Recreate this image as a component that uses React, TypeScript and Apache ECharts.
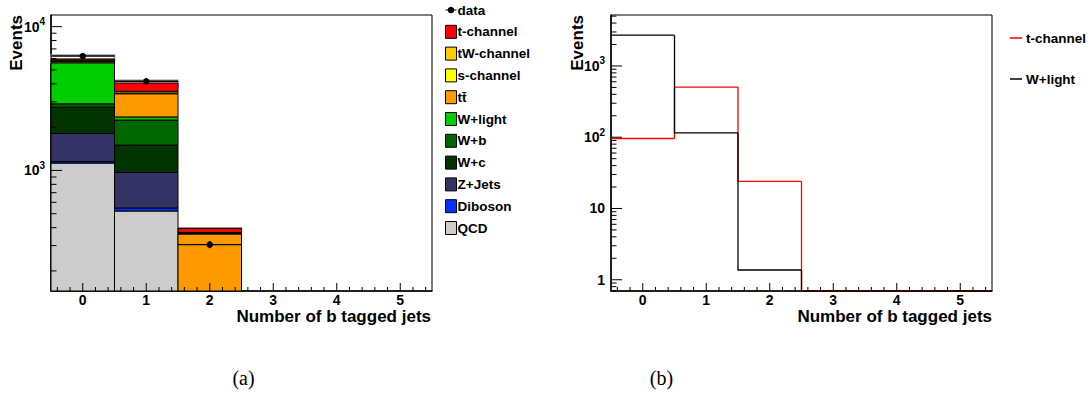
import React, { useEffect, useRef } from 'react';
import * as echarts from 'echarts';

// ---------- data ----------
const binCenters = [0, 1, 2, 3, 4, 5];
const xTickLabels = [0, 1, 2, 3, 4, 5];

// stack layers, bottom to top (events per bin)
const qcd = [1125, 522, 20, 0, 0, 0];
const diboson = [25, 26, 2, 0, 0, 0];
const zjets = [657, 420, 12, 0, 0, 0];
const wc = [948, 532, 8, 0, 0, 0];
const wb = [150, 740, 30, 0, 0, 0];
const wlight = [2700, 115, 1.37, 0, 0, 0];
const ttbar = [140, 1060, 288, 0, 0, 0];
const schannel = [30, 40, 3, 0, 0, 0];
const twchannel = [90, 96, 6, 0, 0, 0];
const tchannel = [96, 505, 24, 0, 0, 0];
const dataCounts = [6250, 4170, 305, 0, 0, 0];
const mcUncertainty = [390, 180, 5, 0, 0, 0];

const processNames = ['QCD', 'Diboson', 'Z+Jets', 'W+c', 'W+b', 'W+light', 'tt\u0304', 's-channel', 'tW-channel', 't-channel'];
const processColors = ['#cccccc', '#0033ff', '#333366', '#003300', '#006600', '#00cc00', '#ff9900', '#ffff00', '#ffcc00', '#ff0000'];
const layers = [qcd, diboson, zjets, wc, wb, wlight, ttbar, schannel, twchannel, tchannel];

// right panel histograms
const rightTChannel = tchannel;
const rightWLight = wlight;

const leftYMin = 145;
const leftYMax = 12050;
const rightYMin = 0.695;
const rightYMax = 5190;

const FONT = '"Liberation Sans", Arial, Helvetica, sans-serif';

const cumulative: number[][] = [];
layers.forEach((layer, j) => {
  cumulative.push(layer.map((v, i) => v + (j > 0 ? cumulative[j - 1][i] : 0)));
});
const totals = cumulative[cumulative.length - 1];

function logLabel(value: number): string {
  const e = Math.round(Math.log10(value));
  if (Math.abs(value / Math.pow(10, e) - 1) > 1e-6) return '';
  if (e === 0) return '{m|1}';
  if (e === 1) return '{m|10}';
  return '{m|10}{s|' + e + '}';
}

function buildYTicks(lo: number, hi: number, eMin: number, eMax: number): number[][] {
  const out: number[][] = [];
  for (let e = eMin; e <= eMax; e++) {
    for (let k = 1; k <= 9; k++) {
      const v = k * Math.pow(10, e);
      if (v >= lo && v <= hi) out.push([0, v, k === 1 ? 1 : 0, 0]);
    }
  }
  return out;
}
function buildXTicks(yRef: number): number[][] {
  const out: number[][] = [];
  for (let n = -2; n <= 27; n++) {
    const v = n / 5;
    out.push([v, yRef, n % 5 === 0 ? 1 : 0, 1]);
  }
  return out;
}

export default function App() {
  const ref = useRef<HTMLDivElement>(null);
  useEffect(() => {
    if (!ref.current) return;
    const chart = echarts.init(ref.current, undefined, { renderer: 'svg' });

    const clampY = (cs: any, y: number) => Math.max(cs.y, Math.min(cs.y + cs.height, y));

    const tickRender = (params: any, api: any) => {
      const cs = params.coordSys;
      const major = api.value(2);
      const kind = api.value(3);
      if (kind === 0) {
        const y = api.coord([0, api.value(1)])[1];
        const len = major ? 11 : 5.5;
        return { type: 'line', shape: { x1: cs.x, y1: y, x2: cs.x + len, y2: y }, style: { stroke: '#000', lineWidth: 1 } };
      }
      const x = api.coord([api.value(0), api.value(1)])[0];
      const len = major ? 8 : 4;
      const yb = cs.y + cs.height;
      return { type: 'line', shape: { x1: x, y1: yb, x2: x, y2: yb - len }, style: { stroke: '#000', lineWidth: 1 } };
    };

    const stackSeries = layers.map((layer, j) => ({
      type: 'custom',
      name: processNames[j],
      xAxisIndex: 0,
      yAxisIndex: 0,
      silent: true,
      itemStyle: { color: processColors[j], borderColor: '#000', borderWidth: 1 },
      data: binCenters.map((b, i) => [b, layer[i]]),
      z: 3,
      renderItem: (params: any, api: any) => {
        const cs = params.coordSys;
        const i = params.dataIndex;
        const v = layer[i];
        if (!(v > 0)) return null;
        const top = cumulative[j][i];
        const bottom = top - v;
        const yTop = clampY(cs, api.coord([0, top])[1]);
        const yBot = bottom > 0 ? clampY(cs, api.coord([0, bottom])[1]) : cs.y + cs.height;
        if (yBot - yTop < 0.01) return null;
        const xL = api.coord([binCenters[i] - 0.5, top])[0];
        const xR = api.coord([binCenters[i] + 0.5, top])[0];
        return {
          type: 'rect',
          shape: { x: xL, y: yTop, width: xR - xL, height: yBot - yTop },
          style: { fill: processColors[j], stroke: '#000', lineWidth: 1 },
        };
      },
    }));

    const bandSeries = {
      type: 'custom',
      name: 'uncertainty',
      xAxisIndex: 0,
      yAxisIndex: 0,
      silent: true,
      z: 2,
      data: binCenters.map((b, i) => [b, totals[i]]),
      renderItem: (params: any, api: any) => {
        const cs = params.coordSys;
        const i = params.dataIndex;
        const t = totals[i];
        const u = mcUncertainty[i];
        if (!(t > 0) || !(u > 0)) return null;
        const yTop = clampY(cs, api.coord([0, t + u])[1]);
        const yBot = clampY(cs, api.coord([0, Math.max(t - u, 1e-3)])[1]);
        const xL = api.coord([binCenters[i] - 0.5, t])[0];
        const xR = api.coord([binCenters[i] + 0.5, t])[0];
        return {
          type: 'rect',
          shape: { x: xL, y: yTop, width: xR - xL, height: yBot - yTop },
          style: { fill: 'none', stroke: '#999999', lineWidth: 1.6 },
        };
      },
    };

    const dataSeries = {
      type: 'custom',
      name: 'data',
      xAxisIndex: 0,
      yAxisIndex: 0,
      silent: true,
      z: 5,
      itemStyle: { color: '#000' },
      data: binCenters.map((b, i) => [b, dataCounts[i]]),
      renderItem: (params: any, api: any) => {
        const cs = params.coordSys;
        const i = params.dataIndex;
        const v = dataCounts[i];
        if (!(v > 0)) return null;
        const err = Math.sqrt(v);
        const [x, y] = api.coord([binCenters[i], v]);
        const xL = api.coord([binCenters[i] - 0.5, v])[0];
        const xR = api.coord([binCenters[i] + 0.5, v])[0];
        const yHi = clampY(cs, api.coord([0, v + err])[1]);
        const yLo = clampY(cs, api.coord([0, v - err])[1]);
        return {
          type: 'group',
          children: [
            { type: 'line', shape: { x1: xL, y1: y, x2: xR, y2: y }, style: { stroke: '#000', lineWidth: 1.3 } },
            { type: 'line', shape: { x1: x, y1: yHi, x2: x, y2: yLo }, style: { stroke: '#000', lineWidth: 1.3 } },
            { type: 'circle', shape: { cx: x, cy: y, r: 3.3 }, style: { fill: '#000' } },
          ],
        };
      },
    };

    const stepSeries = (name: string, values: number[], color: string, z: number) => ({
      type: 'custom',
      name,
      xAxisIndex: 1,
      yAxisIndex: 1,
      silent: true,
      z,
      itemStyle: { color },
      data: binCenters.map((b, i) => [b, values[i]]),
      renderItem: (params: any, api: any) => {
        const cs = params.coordSys;
        const i = params.dataIndex;
        const yOf = (v: number) => (v > 0 ? clampY(cs, api.coord([0, v])[1]) : cs.y + cs.height);
        const xL = api.coord([binCenters[i] - 0.5, 1])[0];
        const xR = api.coord([binCenters[i] + 0.5, 1])[0];
        const y = yOf(values[i]);
        const pts: number[][] = [];
        if (i > 0) pts.push([xL, yOf(values[i - 1])]);
        pts.push([xL, y], [xR, y]);
        return { type: 'polyline', shape: { points: pts }, style: { stroke: color, lineWidth: 1.3, fill: 'none' } };
      },
    });

    const tickSeries = (idx: number, data: number[][]) => ({
      type: 'custom',
      name: 'ticks' + idx,
      xAxisIndex: idx,
      yAxisIndex: idx,
      silent: true,
      z: 6,
      data,
      renderItem: tickRender,
    });

    const xAxisCommon = {
      type: 'value',
      min: -0.5,
      max: 5.5,
      axisLine: { show: true, onZero: false, lineStyle: { color: '#000', width: 1.5 } },
      axisTick: { show: false },
      splitLine: { show: false },
      axisLabel: {
        customValues: xTickLabels,
        margin: 3,
        fontSize: 14,
        lineHeight: 12,
        fontWeight: 'bold',
        fontFamily: FONT,
        color: '#000',
      },
    };
    const richLabel = {
      m: { fontSize: 14, fontWeight: 'bold', fontFamily: FONT, color: '#000', lineHeight: 20 },
      s: { fontSize: 10, fontWeight: 'bold', fontFamily: FONT, color: '#000', lineHeight: 13, verticalAlign: 'top' },
    };
    const yAxisCommon = {
      type: 'log',
      logBase: 10,
      axisLine: { show: true, onZero: false, lineStyle: { color: '#000', width: 1.5 } },
      axisTick: { show: false },
      splitLine: { show: false },
      minorTick: { show: false },
      axisLabel: {
        formatter: logLabel,
        rich: richLabel,
        margin: 6,
        showMinLabel: false,
        showMaxLabel: false,
      },
    };

    const legendText = { fontSize: 13.5, fontWeight: 'bold', fontFamily: FONT, color: '#000', padding: [0, 0, 0, -4] };
    const legendOrder = ['t-channel', 'tW-channel', 's-channel', processNames[6], 'W+light', 'W+b', 'W+c', 'Z+Jets', 'Diboson', 'QCD'];
    const titleFont = 'bold 17px ' + FONT;

    const option: any = {
      animation: false,
      textStyle: { fontFamily: FONT },
      grid: [
        { left: 51, top: 15, width: 381, height: 276, show: true, borderColor: '#000', borderWidth: 1, backgroundColor: '#fff' },
        { left: 611, top: 15, width: 381, height: 276, show: true, borderColor: '#000', borderWidth: 1, backgroundColor: '#fff' },
      ],
      xAxis: [
        { ...xAxisCommon, gridIndex: 0 },
        { ...xAxisCommon, gridIndex: 1 },
      ],
      yAxis: [
        { ...yAxisCommon, gridIndex: 0, min: leftYMin, max: leftYMax },
        { ...yAxisCommon, gridIndex: 1, min: rightYMin, max: rightYMax },
      ],
      legend: [
        {
          orient: 'vertical',
          left: 445,
          top: 3,
          padding: 0,
          itemWidth: 11,
          itemHeight: 13,
          itemGap: 7.8,
          selectedMode: false,
          textStyle: legendText,
          itemStyle: { borderColor: '#000', borderWidth: 1 },
          data: [
            { name: 'data', icon: 'path://M0,0 M11,13 M0,6 L2.2,6 L2.2,7 L0,7 Z M8.8,6 L11,6 L11,7 L8.8,7 Z M5.5,3.2 A3.3,3.3 0 1 1 5.49,3.2 Z', itemStyle: { borderWidth: 0 } },
            ...legendOrder.map((n) => ({ name: n, icon: 'rect' })),
          ],
        },
        {
          orient: 'vertical',
          left: 1010,
          top: 31,
          padding: 0,
          itemWidth: 12,
          itemHeight: 1.5,
          itemGap: 27,
          selectedMode: false,
          textStyle: { ...legendText, padding: [0, 0, 0, -1] },
          itemStyle: { borderWidth: 0 },
          formatter: (n: string) => n.replace('_b', ''),
          data: [
            { name: 't-channel_b', icon: 'rect' },
            { name: 'W+light_b', icon: 'rect' },
          ],
        },
      ],
      graphic: [
        { type: 'text', x: 16.5, y: 15, rotation: Math.PI / 2, style: { text: 'Events', font: titleFont, fill: '#000', align: 'right', verticalAlign: 'middle' } },
        { type: 'text', x: 577, y: 15, rotation: Math.PI / 2, style: { text: 'Events', font: titleFont, fill: '#000', align: 'right', verticalAlign: 'middle' } },
        { type: 'text', x: 431, y: 316, style: { text: 'Number of b tagged jets', font: titleFont, lineHeight: 14, fill: '#000', align: 'right', verticalAlign: 'middle' } },
        { type: 'text', x: 992, y: 316, style: { text: 'Number of b tagged jets', font: titleFont, lineHeight: 14, fill: '#000', align: 'right', verticalAlign: 'middle' } },
        { type: 'text', x: 243.5, y: 378, style: { text: '(a)', font: '20px "Liberation Serif", "Times New Roman", serif', fill: '#000', align: 'center', verticalAlign: 'middle' } },
        { type: 'text', x: 661.5, y: 378, style: { text: '(b)', font: '20px "Liberation Serif", "Times New Roman", serif', fill: '#000', align: 'center', verticalAlign: 'middle' } },
      ],
      series: [
        bandSeries,
        ...stackSeries,
        dataSeries,
        stepSeries('t-channel_b', rightTChannel, '#ff0000', 3),
        stepSeries('W+light_b', rightWLight, '#000000', 4),
        tickSeries(0, [...buildYTicks(leftYMin, leftYMax, 2, 4), ...buildXTicks(1000)]),
        tickSeries(1, [...buildYTicks(rightYMin, rightYMax, -1, 3), ...buildXTicks(10)]),
      ],
    };
    chart.setOption(option);
    return () => chart.dispose();
  }, []);
  return (
    <div
      ref={ref}
      style={{ position: 'fixed', left: 0, top: 0, width: 1092, height: 396, background: '#fff' }}
    />
  );
}
